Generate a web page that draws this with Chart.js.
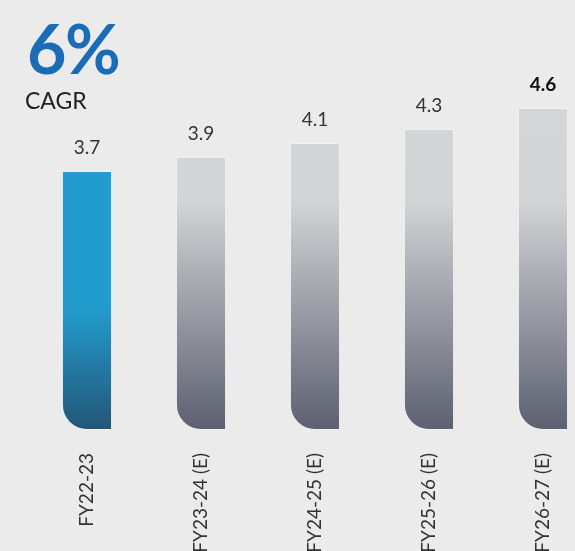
<!DOCTYPE html>
<html>
<head>
<meta charset="utf-8">
<script src="https://cdn.jsdelivr.net/npm/chart.js@4.4.1/dist/chart.umd.min.js"></script>
<style>
  html, body { margin: 0; padding: 0; background: #ebebeb; overflow: hidden; width: 575px; height: 551px; }
  #wrap { position: absolute; left: 0; top: 0; width: 602px; height: 551px; }
  #big { position: absolute; left: 27px; top: 14px; font-family: Lato, sans-serif; font-weight: 700; font-size: 68px; color: #1a6cb6; line-height: 1; letter-spacing: -1.5px; }
  #sub { position: absolute; left: 25px; top: 89px; font-family: Lato, sans-serif; font-size: 23px; color: #222; line-height: 1; }
</style>
</head>
<body>
<div id="wrap"><canvas id="c" width="602" height="551"></canvas></div>
<div id="big">6%</div>
<div id="sub">CAGR</div>
<script>
const categories = ["FY22-23", "FY23-24 (E)", "FY24-25 (E)", "FY25-26 (E)", "FY26-27 (E)"];
const values = [3.7, 3.9, 4.1, 4.3, 4.6];
const valueLabels = ["3.7", "3.9", "4.1", "4.3", "4.6"];
const highlightIndex = 4;

function barGradient(ctx) {
  const chart = ctx.chart;
  const area = chart.chartArea;
  if (!area) return '#cccccc';
  const y = chart.scales.y;
  const g = chart.ctx.createLinearGradient(0, area.top, 0, area.bottom);
  const frac = v => (y.getPixelForValue(v) - area.top) / (area.bottom - area.top);
  if (ctx.dataIndex === 0) {
    g.addColorStop(0, '#229dd0');
    g.addColorStop(frac(1.72), '#229bcd');
    g.addColorStop(1, '#235676');
  } else {
    g.addColorStop(0, '#d5d6d8');
    g.addColorStop(frac(3.28), '#d3d4d6');
    g.addColorStop(1, '#5c6070');
  }
  return g;
}

const valueLabelPlugin = {
  id: 'valueLabels',
  afterDatasetsDraw(chart) {
    const ctx = chart.ctx;
    const meta = chart.getDatasetMeta(0);
    ctx.save();
    ctx.textAlign = 'center';
    ctx.textBaseline = 'alphabetic';
    meta.data.forEach((el, i) => {
      if (i === highlightIndex) {
        ctx.font = '700 19px Lato, sans-serif';
        ctx.fillStyle = '#111111';
      } else {
        ctx.font = '400 19px Lato, sans-serif';
        ctx.fillStyle = '#333333';
      }
      ctx.fillText(valueLabels[i], el.x, el.y - 17);
    });
    ctx.restore();
  }
};

new Chart(document.getElementById('c'), {
  type: 'bar',
  data: {
    labels: categories,
    datasets: [{
      data: values,
      backgroundColor: barGradient,
      borderColor: 'rgba(255,255,255,0.35)',
      borderWidth: 1,
      borderSkipped: false,
      borderRadius: { topLeft: 0, topRight: 0, bottomLeft: 25, bottomRight: 0 },
      barPercentage: 0.44,
      categoryPercentage: 1
    }]
  },
  options: {
    responsive: false,
    animation: false,
    events: [],
    layout: { padding: { left: 30, right: 2, top: 80, bottom: 0 } },
    plugins: { legend: { display: false }, tooltip: { enabled: false } },
    scales: {
      x: {
        grid: { display: false },
        border: { display: false },
        ticks: {
          minRotation: 90,
          maxRotation: 90,
          padding: 15,
          color: '#333333',
          font: { family: 'Lato, sans-serif', size: 19 }
        },
        afterFit(scale) { scale.height = 121; }
      },
      y: {
        display: false,
        min: 0,
        max: 5
      }
    }
  },
  plugins: [valueLabelPlugin]
});
</script>
</body>
</html>
